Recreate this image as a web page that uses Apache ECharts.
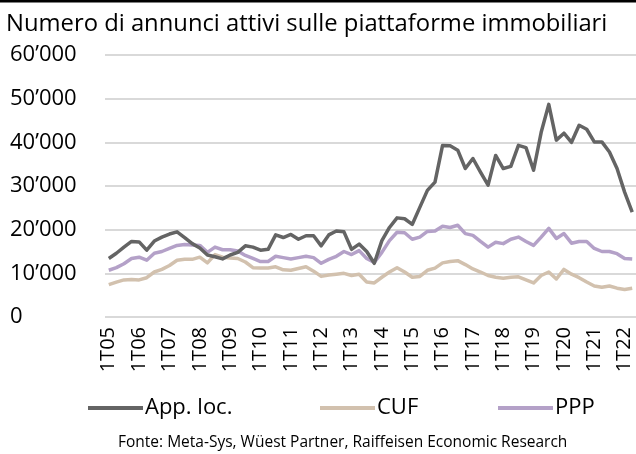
<!DOCTYPE html>
<html>
<head>
<meta charset="utf-8">
<script src="https://cdn.jsdelivr.net/npm/echarts@6/dist/echarts.min.js"></script>
<style>
  html, body { margin: 0; padding: 0; background: #fff; }
  #Echarts { width: 636px; height: 454px; }
</style>
</head>
<body>
<div id="Echarts"></div>
<script>
// quarters 1T05 .. 2T22
var quarters = [];
for (var y = 5; y <= 22; y++) {
    for (var q = 1; q <= 4; q++) {
        if (y === 22 && q > 2) break;
        quarters.push(q + 'T' + (y < 10 ? '0' + y : '' + y));
    }
}

var appLoc = [
    13400, 14600, 16000, 17300, 17200, 15300, 17400, 18300, 19000, 19500,
    18200, 16800, 15800, 14200, 13800, 13300, 14200, 14800, 16300, 16000,
    15300, 15500, 18800, 18200, 18900, 17800, 18600, 18600, 16300, 18800,
    19700, 19500, 15500, 16700, 15000, 12300, 17500, 20500, 22700, 22500,
    21200, 25100, 29000, 30900, 39300, 39200, 38200, 34000, 36300, 33200,
    30200, 37000, 34000, 34500, 39300, 38800, 33600, 42300, 48700, 40500,
    42100, 40000, 43900, 43000, 40100, 40100, 37800, 34000, 28600, 24000
];
var cuf = [
    7400, 8000, 8500, 8600, 8500, 9000, 10300, 10900, 11800, 13000,
    13200, 13200, 13700, 12400, 14300, 13700, 13500, 13400, 12600, 11300,
    11200, 11200, 11500, 10800, 10700, 11100, 11500, 10500, 9300, 9600,
    9800, 10000, 9500, 9800, 8000, 7800, 9100, 10300, 11300, 10300,
    9100, 9300, 10700, 11200, 12400, 12700, 12900, 12000, 11000, 10300,
    9500, 9100, 8900, 9100, 9200, 8500, 7800, 9500, 10300, 8700,
    10900, 9800, 9000, 8000, 7100, 6800, 7100, 6600, 6300, 6600
];
var ppp = [
    10700, 11300, 12200, 13400, 13700, 13000, 14600, 15000, 15700, 16400,
    16600, 16500, 16400, 14800, 16000, 15400, 15400, 15100, 14100, 13400,
    12700, 12700, 13900, 13600, 13300, 13600, 13900, 13600, 12300, 13200,
    13900, 15000, 14300, 15200, 13400, 12500, 14800, 17500, 19400, 19300,
    17800, 18300, 19600, 19700, 20800, 20500, 21000, 19100, 18700, 17300,
    16000, 17100, 16800, 17800, 18300, 17300, 16400, 18300, 20300, 18000,
    19100, 16900, 17300, 17300, 15700, 15000, 15000, 14500, 13400, 13300
];

var seriesNames = ['App. loc.', 'CUF', 'PPP'];
var seriesColors = ['#646464', '#d2c1ae', '#b4a1c8'];
var FONT = 'Open Sans';

var myChart = echarts.init(document.getElementById('Echarts'), null, { width: 636, height: 454 });

function fmt(v) {
    return String(v).replace(/\B(?=(\d{3})+(?!\d))/g, '\u2019');
}

function legendAt(i, left) {
    return {
        data: [seriesNames[i]],
        left: left,
        top: 397,
        padding: 0,
        icon: 'rect',
        itemWidth: 55,
        itemHeight: 4,
        itemGap: 0,
        textStyle: { fontFamily: FONT, fontSize: 22, color: '#000', padding: [0, 0, 0, -3] },
        selectedMode: false
    };
}

var option = {
    animation: false,
    backgroundColor: '#fff',
    textStyle: { fontFamily: FONT },
    grid: { left: 105, right: 0, top: 55, bottom: 454 - 317 },
    xAxis: {
        type: 'category',
        data: quarters,
        boundaryGap: true,
        axisLine: { show: false },
        axisTick: { show: false },
        axisLabel: {
            interval: 3,
            rotate: 90,
            margin: 10,
            fontFamily: FONT,
            fontSize: 20,
            color: '#000'
        }
    },
    yAxis: {
        type: 'value',
        min: 0,
        max: 60000,
        interval: 10000,
        axisLine: { show: false },
        axisTick: { show: false },
        splitLine: { lineStyle: { color: '#d9d9d9', width: 2 } },
        axisLabel: {
            align: 'left',
            margin: 95,
            fontFamily: FONT,
            fontSize: 22,
            color: '#000',
            formatter: fmt
        }
    },
    legend: [legendAt(0, 88), legendAt(1, 320), legendAt(2, 498)],
    series: [
        { name: seriesNames[0], type: 'line', data: appLoc },
        { name: seriesNames[1], type: 'line', data: cuf },
        { name: seriesNames[2], type: 'line', data: ppp }
    ].map(function (s, i) {
        s.color = seriesColors[i];
        s.symbol = 'none';
        s.lineStyle = { width: 3.5, color: seriesColors[i], join: 'round' };
        s.silent = true;
        s.z = 10 - i;
        return s;
    }),
    graphic: [
        { type: 'rect', left: 0, top: 0, shape: { width: 636, height: 2.5 }, style: { fill: '#000' } },
        {
            type: 'text', left: 6, top: 12,
            style: { text: 'Numero di annunci attivi sulle piattaforme immobiliari', font: '23.8px "Open Sans"', fill: '#000' }
        },
        {
            type: 'text', left: 118, top: 435,
            style: { text: 'Fonte: Meta-Sys, Wüest Partner, Raiffeisen Economic Research', font: '15.5px "Open Sans"', fill: '#000' }
        }
    ]
};

myChart.setOption(option);
</script>
</body>
</html>
